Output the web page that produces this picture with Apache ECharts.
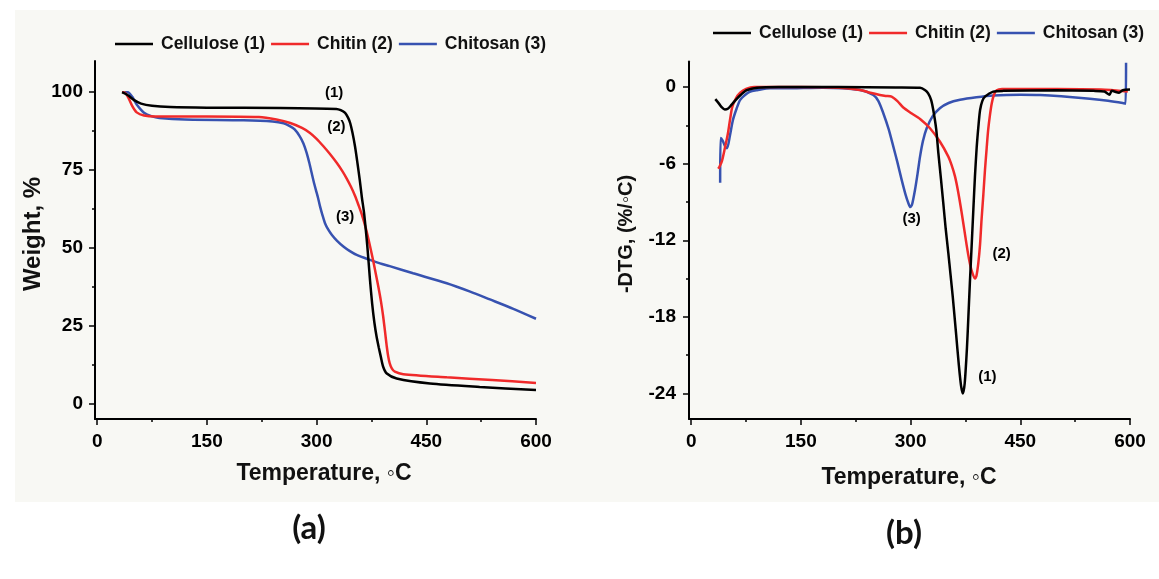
<!DOCTYPE html>
<html style="height: 100%">
<head>
<meta charset="utf-8">
<script src="https://cdn.jsdelivr.net/npm/echarts@6/dist/echarts.min.js"></script>
</head>
<body style="height: 100%; margin: 0; background: #fff">
<div id="main" style="width: 1159px; height: 579px;"></div>
<script type="text/javascript">
// series names
var names = ['Cellulose (1)', 'Chitin (2)', 'Chitosan (3)'];
var colors = ['#000000', '#f02a2a', '#3752b0'];

// (a) TGA, weight % vs temperature
var tgaCellulose = [[34,100],[42,99],[50,97.5],[60,96.3],[75,95.6],[100,95.2],[150,95],[250,94.9],[327,94.6],[333,94.2],[339,93.3],[343,91.8],[346,90],[349,87],[352.5,82.6],[356,77],[359,71.8],[362,66],[365,61],[369.4,50.4],[373,39.7],[376,32],[379,26],[382,21.5],[385,18],[388,14.8],[391,11.8],[396,9.6],[409.5,8],[455,6.4],[523,5.3],[600,4.3]];
var tgaChitin = [[34,100],[38,99.8],[42,98.5],[48,95.5],[54,93.5],[64,92.5],[80,92.2],[150,92.2],[221,92],[245,91.2],[264,90.1],[280,88.5],[291,86.9],[300,85],[309,82.7],[318,80.2],[327.5,77.3],[335,74.7],[341,72.3],[347,69.6],[352.5,66.7],[357,63.9],[361.7,60.8],[367.6,56],[373,50.6],[377.6,45.6],[381,41.6],[384.5,37.4],[388,32.8],[391,28],[393.5,23.2],[396,18.2],[398,15],[400,12.9],[403,11.2],[407,10.2],[418.6,9.4],[478,8.4],[540,7.5],[600,6.6]];
var tgaChitosan = [[37,100],[42,100],[48,98.5],[54,96],[64,93.4],[75,92.2],[85,91.7],[120,91.2],[200,91],[240,90.6],[255,90],[264,89],[270,88],[277,85.8],[282,83.5],[286.5,80.4],[290,77.3],[293.3,74],[296,71.3],[299,68.6],[302,66],[304.7,63.3],[308,60.5],[311.5,57.9],[316,55.8],[320.7,54.2],[328,52.2],[336.6,50.4],[345,49],[354.8,47.7],[373,46.1],[386.7,45],[400,44.1],[432,41.8],[478,38.6],[510,35.9],[537,33.4],[569,30.4],[600,27.2]];

// (b) -DTG vs temperature
var dtgCellulose = [[33,-0.95],[38,-1.3],[42,-1.6],[46,-1.75],[50,-1.7],[55,-1.4],[61,-1.0],[68,-0.6],[76,-0.25],[90,-0.05],[120,0],[200,0],[280,-0.03],[313,-0.05],[320,-0.25],[324,-0.5],[328,-1.0],[331,-1.8],[335,-3.3],[338,-5.2],[341.5,-7.2],[344.7,-9.1],[348,-11.1],[351.6,-13],[354.6,-14.7],[357.6,-16.4],[362,-19.2],[366,-21.8],[369,-23.4],[371.5,-24],[374,-23.2],[377,-20.5],[379,-18],[381,-15.4],[383.5,-12.4],[385.8,-9.6],[388,-7],[390.4,-4.7],[393,-2.9],[395,-1.8],[398,-1.1],[401.7,-0.75],[413,-0.36],[427,-0.3],[500,-0.25],[550,-0.3],[565,-0.35],[572,-0.6],[575,-0.3],[585,-0.45],[590,-0.25],[600,-0.2]];
var dtgChitin = [[37,-6.4],[39,-6.2],[42,-5.8],[46,-4.8],[50,-3.7],[53,-2.6],[56,-1.6],[61,-0.9],[67,-0.45],[75,-0.15],[86,0],[150,0],[202,-0.05],[231,-0.23],[245,-0.45],[258,-0.62],[266,-0.7],[274,-0.75],[282,-1.1],[290,-1.6],[301,-2.05],[313,-2.5],[326.5,-3.23],[340,-4.27],[351.6,-5.45],[356,-6.1],[360.7,-7.0],[365,-8.2],[370,-9.9],[376.7,-12.4],[380,-13.5],[383.6,-14.4],[388,-15],[390,-14.8],[392.6,-13.8],[395,-12.3],[397,-10.4],[399.5,-8.4],[401.7,-6.5],[404,-4.8],[406,-3.4],[408.5,-2.2],[411,-1.27],[414,-0.6],[417.7,-0.25],[425,-0.15],[500,-0.15],[560,-0.2],[597,-0.35]];
var dtgChitosan = [[39.6,-7.5],[40.2,-4.0],[43,-4.2],[46,-4.6],[49,-4.8],[53,-3.8],[57,-2.6],[62,-1.7],[67,-1.0],[74,-0.6],[80,-0.37],[90,-0.25],[108,-0.1],[127,-0.1],[180,-0.05],[231,-0.23],[249,-0.62],[256,-1.1],[262.7,-2.05],[270,-3.3],[276.4,-4.67],[282,-5.9],[287.8,-7.27],[293,-8.4],[297,-9.1],[299.5,-9.4],[302,-9.2],[306,-8.06],[309.5,-6.8],[312.9,-5.45],[317,-4.2],[322,-3.23],[330,-2.3],[340,-1.66],[352,-1.25],[367.6,-1.0],[390,-0.8],[413,-0.66],[450,-0.6],[477,-0.62],[506,-0.72],[545,-0.92],[570,-1.08],[590,-1.25],[594,-1.3],[594.6,1.9]];

// curve labels [x, y, text]
var notesA = [[324,99.7,'(1)'],[327,89,'(2)'],[339,60,'(3)']];
var notesB = [[301.5,-10.3,'(3)'],[424.5,-13.1,'(2)'],[405,-22.7,'(1)']];

// ticks
var xTicks = [0,150,300,450,600];
var xMinor = [75,225,375,525];
var yTicksA = [0,25,50,75,100];
var yMinorA = [12.5,37.5,62.5,87.5];
var yTicksB = [-24,-18,-12,-6,0];
var yMinorB = [-21,-15,-9,-3];

var FONT = '"Liberation Sans", Arial, sans-serif';

function mainAxis(grid, pos, min, max, ticks, margin) {
    return {
        type: 'value', gridIndex: grid, position: pos, min: min, max: max,
        splitLine: {show: false},
        axisLine: {onZero: false, lineStyle: {color: '#000', width: 2}},
        axisTick: {customValues: ticks, length: 6, lineStyle: {color: '#000', width: 1.5}},
        axisLabel: {customValues: ticks, margin: margin, color: '#000', fontFamily: FONT, fontWeight: 'bold', fontSize: 19}
    };
}
function minorAxis(grid, pos, min, max, ticks) {
    return {
        type: 'value', gridIndex: grid, position: pos, min: min, max: max,
        splitLine: {show: false},
        axisLine: {show: false, onZero: false},
        axisTick: {customValues: ticks, length: 3, lineStyle: {color: '#000', width: 1.5}},
        axisLabel: {show: false}
    };
}

var seriesList = [];
var tga = [tgaCellulose, tgaChitin, tgaChitosan];
var dtg = [dtgCellulose, dtgChitin, dtgChitosan];
for (var i = 0; i < 3; i++) {
    seriesList.push({name: names[i], type: 'line', xAxisIndex: 0, yAxisIndex: 0, data: tga[i],
        symbol: 'none', smooth: 0.25, color: colors[i], lineStyle: {width: 2.5, color: colors[i]}, z: 5 - i});
    seriesList.push({name: names[i], type: 'line', xAxisIndex: 2, yAxisIndex: 2, data: dtg[i],
        symbol: 'none', smooth: 0.25, color: colors[i], lineStyle: {width: 2.5, color: colors[i]}, z: 5 - i});
}
var noteLabel = {show: true, position: 'inside', formatter: function (p) { return p.data[2]; },
    color: '#000', fontFamily: FONT, fontWeight: 'bold', fontSize: 15};
seriesList.push({type: 'scatter', xAxisIndex: 0, yAxisIndex: 0, data: notesA, symbolSize: 1,
    itemStyle: {color: 'rgba(0,0,0,0)', opacity: 1}, label: noteLabel, z: 10});
seriesList.push({type: 'scatter', xAxisIndex: 2, yAxisIndex: 2, data: notesB, symbolSize: 1,
    itemStyle: {color: 'rgba(0,0,0,0)', opacity: 1}, label: noteLabel, z: 10});

var legendText = {color: '#111', fontFamily: FONT, fontWeight: 'bold', fontSize: 17.5, padding: [0, 0, 0, 3]};

var option = {
    animation: false,
    graphic: [
        {type: 'rect', z: -100, silent: true, shape: {x: 15, y: 10, width: 1144, height: 492}, style: {fill: '#f8f8f4'}},
        {type: 'text', x: 33, y: 234, rotation: Math.PI / 2, style: {text: 'Weight, %', align: 'center', verticalAlign: 'middle', font: 'bold 24px ' + FONT, fill: '#111'}},
        {type: 'text', x: 324, y: 474, style: {text: 'Temperature, \u25E6C', align: 'center', verticalAlign: 'middle', font: 'bold 23px ' + FONT, fill: '#111'}},
        {type: 'text', x: 626, y: 234, rotation: Math.PI / 2, style: {text: '-DTG, (%/\u25E6C)', align: 'center', verticalAlign: 'middle', font: 'bold 20px ' + FONT, fill: '#111'}},
        {type: 'text', x: 909, y: 478, style: {text: 'Temperature, \u25E6C', align: 'center', verticalAlign: 'middle', font: 'bold 23px ' + FONT, fill: '#111'}},
        {type: 'text', x: 309, y: 528, style: {text: '(a)', align: 'center', verticalAlign: 'middle', font: 'bold 33px Lato, "Open Sans", sans-serif', fill: '#111'}},
        {type: 'text', x: 904, y: 533, style: {text: '(b)', align: 'center', verticalAlign: 'middle', font: 'bold 33px Lato, "Open Sans", sans-serif', fill: '#111'}}
    ],
    legend: [
        {data: names, left: 115, top: 35, padding: 0, icon: 'rect', itemWidth: 38, itemHeight: 2.5, itemGap: 6, textStyle: legendText},
        {data: names, left: 713, top: 24, padding: 0, icon: 'rect', itemWidth: 38, itemHeight: 2.5, itemGap: 6, textStyle: legendText}
    ],
    grid: [
        {left: 95, top: 61, width: 441, height: 358},
        {left: 689, top: 61.5, width: 441, height: 357.5}
    ],
    xAxis: [
        mainAxis(0, 'bottom', -3, 600, xTicks, 13),
        minorAxis(0, 'bottom', -3, 600, xMinor),
        mainAxis(1, 'bottom', -3, 600, xTicks, 13),
        minorAxis(1, 'bottom', -3, 600, xMinor)
    ],
    yAxis: [
        mainAxis(0, 'left', -5, 110, yTicksA, 12),
        minorAxis(0, 'left', -5, 110, yMinorA),
        mainAxis(1, 'left', -26, 2, yTicksB, 13),
        minorAxis(1, 'left', -26, 2, yMinorB)
    ],
    series: seriesList
};

var myChart = echarts.init(document.getElementById('main'));
myChart.setOption(option);
</script>
</body>
</html>
